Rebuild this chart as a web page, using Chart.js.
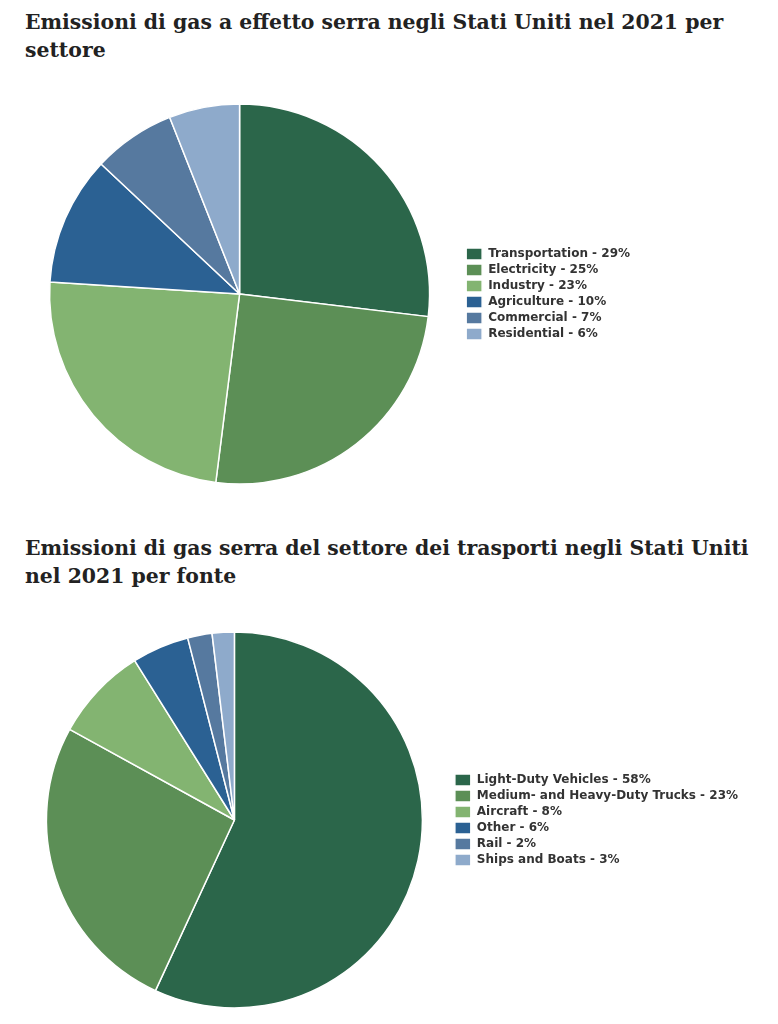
<!DOCTYPE html>
<html>

<head>
    <title>emissioni gas serra</title>
    <script src="https://cdn.jsdelivr.net/npm/chart.js"></script>
    <style>
        body {
            margin: 0;
            background: #fff;
            width: 778px;
            height: 1024px;
            position: relative;
            overflow: hidden;
        }

        h2 {
            position: absolute;
            left: 25px;
            margin: 0;
            font-family: "DejaVu Serif", serif;
            font-weight: bold;
            font-size: 20.4px;
            line-height: 28px;
            color: #222;
            white-space: nowrap;
        }

        .box {
            position: absolute;
            left: 0;
        }
    </style>
    <script>
        // settori (grafico 1)
        const sectorLabels = ['Transportation - 29%', 'Electricity - 25%', 'Industry - 23%',
            'Agriculture - 10%', 'Commercial - 7%', 'Residential - 6%'];
        const sectorValues = [26.9, 25.1, 24.0, 11.0, 7.0, 6.0];

        // fonti trasporti (grafico 2)
        const sourceLabels = ['Light-Duty Vehicles - 58%', 'Medium- and Heavy-Duty Trucks - 23%',
            'Aircraft - 8%', 'Other - 6%', 'Rail - 2%', 'Ships and Boats - 3%'];
        const sourceValues = [56.9, 26.1, 8.1, 4.9, 2.1, 1.9];

        const palette = ['#2b664a', '#5c8f56', '#83b471', '#2b6193', '#56799f', '#8eaacb'];

        function makePie(id, labels, values, radius, padLeft) {
            const ctx = document.getElementById(id).getContext('2d');
            return new Chart(ctx, {
                type: 'pie',
                data: {
                    labels: labels,
                    datasets: [{
                        data: values,
                        backgroundColor: palette,
                        borderColor: '#ffffff',
                        borderWidth: 1.5
                    }]
                },
                options: {
                    responsive: true,
                    maintainAspectRatio: false,
                    animation: false,
                    radius: radius,
                    layout: {
                        padding: { left: padLeft, top: 10, bottom: 10, right: 0 }
                    },
                    plugins: {
                        tooltip: { enabled: false },
                        legend: {
                            position: 'right',
                            labels: {
                                boxWidth: 16,
                                boxHeight: 12,
                                padding: 4,
                                color: '#333',
                                font: { family: '"DejaVu Sans"', size: 12, weight: 'bold' }
                            }
                        }
                    }
                }
            });
        }

        window.onload = function () {
            makePie('pie1', sectorLabels, sectorValues, 190, 17);
            makePie('pie2', sourceLabels, sourceValues, 188, 18);
        };
    </script>
</head>

<body>
    <h2 style="top:8px">Emissioni di gas a effetto serra negli Stati Uniti nel 2021 per<br>settore</h2>
    <div class="box" style="top:94px; width:640px; height:400px">
        <canvas id="pie1"></canvas>
    </div>

    <h2 style="top:534px">Emissioni di gas serra del settore dei trasporti negli Stati Uniti<br>nel 2021 per fonte</h2>
    <div class="box" style="top:622px; width:748px; height:396px">
        <canvas id="pie2"></canvas>
    </div>
</body>

</html>
